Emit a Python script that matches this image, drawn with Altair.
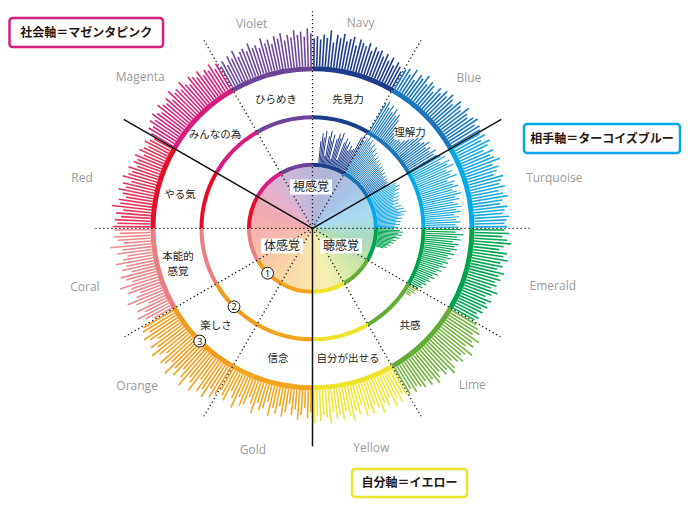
import altair as alt
import pandas as pd

# ---------------- data ----------------
CX, CY = 312.5, 228.3          # wheel centre (page px)

sectors = ["Navy", "Blue", "Turquoise", "Emerald", "Lime", "Yellow",
           "Gold", "Orange", "Coral", "Red", "Magenta", "Violet"]
ring_colors = ["#1e3b8c", "#1a75bb", "#00a9e8", "#00a24b", "#62ad35", "#ece42a",
               "#f3a41d", "#f29c1f", "#e97f7e", "#e50e2b", "#d71c80", "#6c4397"]
bar_colors = ["#1f3d8f", "#1a78bf", "#1aa9e6", "#00a651", "#72b53c", "#ede735",
              "#f4a820", "#f3a023", "#ec8a8c", "#e8365a", "#d6257f", "#6f4a9c"]
disc_colors = ["#aeb3d6", "#a6c3e6", "#a6dcf2", "#a9dbb7", "#d2e7a6", "#f5f1ad",
               "#f9dfaa", "#f9cfa0", "#f6b9ac", "#f3a7ae", "#e2b1cf", "#c4b7da"]

label_angle = [13.2, 46.1, 78.2, 103.4, 134.5, 165, 195, 228, 255.6, 282.4, 311.2, 343.4]
label_radius = [211, 217, 247, 247, 224, 227, 230, 236, 235, 236, 229, 213]

# outer bars: one per degree, length beyond the outer ring
outer_navy = [28, 30, 27, 32, 29, 37, 25, 33, 30, 35, 28, 31, 34, 26, 33, 30, 28, 32, 25, 30, 27, 29, 24, 28, 22, 27, 20, 25, 22, 18]
outer_blue = [22, 25, 20, 28, 18, 26, 24, 30, 22, 27, 25, 20, 28, 24, 30, 26, 32, 28, 25, 33, 30, 27, 35, 30, 28, 33, 36, 30, 34, 32]
outer_turq = [30, 34, 28, 36, 32, 26, 35, 30, 33, 38, 29, 34, 31, 27, 36, 33, 30, 35, 28, 32, 36, 30, 27, 34, 31, 29, 35, 32, 30, 33]
outer_emer = [30, 35, 28, 33, 37, 30, 26, 34, 31, 36, 29, 32, 27, 35, 30, 33, 28, 31, 26, 34, 29, 24, 31, 27, 30, 25, 28, 23, 27, 24]
outer_lime = [28, 32, 36, 30, 40, 34, 38, 31, 42, 36, 33, 39, 35, 30, 37, 41, 33, 36, 29, 34, 38, 31, 35, 28, 33, 30, 27, 32, 26, 30]
outer_yell = [30, 26, 33, 28, 35, 24, 31, 27, 36, 29, 25, 33, 28, 34, 22, 30, 26, 35, 29, 24, 32, 27, 30, 23, 34, 28, 25, 31, 26, 33]
outer_gold = [22, 28, 18, 25, 30, 20, 26, 15, 24, 29, 19, 27, 22, 31, 17, 25, 28, 21, 33, 24, 18, 27, 30, 22, 35, 26, 20, 32, 28, 24]
outer_oran = [30, 36, 28, 40, 33, 38, 26, 42, 35, 31, 44, 37, 29, 40, 34, 45, 32, 38, 41, 30, 36, 43, 33, 39, 28, 35, 40, 31, 37, 34]
outer_cora = [20, 28, 35, 25, 32, 18, 30, 38, 27, 22, 34, 29, 40, 26, 31, 36, 24, 33, 28, 38, 30, 25, 35, 29, 41, 27, 33, 37, 31, 36]
outer_red = [38, 33, 36, 30, 35, 28, 40, 32, 34, 27, 31, 36, 29, 33, 25, 35, 30, 27, 32, 24, 29, 26, 30, 22, 28, 25, 21, 27, 23, 20]
outer_mage = [25, 30, 27, 33, 29, 35, 31, 28, 36, 32, 30, 34, 28, 37, 31, 33, 29, 36, 30, 27, 34, 31, 28, 33, 26, 30, 27, 32, 25, 29]
outer_viol = [24, 28, 22, 30, 26, 33, 25, 29, 31, 27, 34, 28, 30, 26, 35, 29, 32, 27, 34, 31, 36, 28, 33, 30, 37, 32, 35, 30, 38, 33]
outer_lengths = [outer_navy, outer_blue, outer_turq, outer_emer, outer_lime, outer_yell,
                 outer_gold, outer_oran, outer_cora, outer_red, outer_mage, outer_viol]

# middle bars (from the middle ring), one per degree starting at 30 deg
middle_start = 30
middle_lengths = [32, 35, 30, 34, 28, 33, 27, 30, 25, 18, 12, 10, 8, 9, 11, 10, 14, 18, 22, 26, 30, 24, 28, 32, 26, 30, 27, 33, 29, 31,
                  34, 38, 30, 40, 36, 42, 33, 38, 35, 41, 30, 37, 34, 39, 32, 36, 40, 33, 37, 30, 35, 38, 32, 36, 29, 34, 31, 35, 30, 33,
                  35, 30, 38, 32, 36, 28, 34, 30, 33, 27, 31, 25, 29, 24, 27, 22, 26, 20, 23, 18, 21, 16, 19, 14, 16, 12, 14, 10, 12, 8,
                  10, 7, 8, 5, 6]

# inner bars (from the inner ring), one per degree starting at 5 deg
inner_start = 5
inner_lengths = [22, 30, 26, 33, 8, 28, 34, 24, 31, 6, 27, 33, 29, 35, 7, 26, 31, 24, 29, 20, 26, 22, 24,
                 38, 42, 36, 40, 44, 38, 41, 35, 39, 33, 37, 30, 34, 28, 32, 27, 30, 26, 29, 25, 28, 24, 27, 23, 26, 22, 25, 21, 24, 22, 23, 20, 22,
                 30, 28, 32, 26, 30, 24, 28, 22, 27, 20, 25, 19, 24, 18, 26, 20, 28, 22, 30, 24, 27, 21, 25, 19, 23, 18, 22, 17, 20, 16,
                 22, 25, 20, 24, 18, 22, 16, 19, 14, 17, 12, 14, 10, 11, 8]

jp_labels = ["ひらめき", "先見力", "理解力", "みんなの為", "やる気", "本能的", "感覚",
             "楽しさ", "信念", "自分が出せる", "共感"]
jp_x = [276, 348, 410, 215, 180, 178, 178, 216, 278, 348, 410]
jp_y = [100, 100, 133, 135, 195, 257, 272, 326, 359, 359, 326]

sense_labels = ["視感覚", "体感覚", "聴感覚"]
sense_x = [311, 282, 341]
sense_y = [187, 246, 246]

axis_titles = ["社会軸＝マゼンタピンク", "相手軸＝ターコイズブルー", "自分軸＝イエロー"]
axis_colors = ["#d71c80", "#00a9e8", "#ece42a"]
box_x0 = [9.5, 524, 352]
box_x1 = [163, 680, 467]
box_y0 = [18, 124, 469]
box_y1 = [47, 153, 497]

marker_labels = ["1", "2", "3"]
marker_radius = [63.5, 111, 159.5]
marker_angle = 225

ring_inner = [61.5, 109, 157]
ring_outer = [65.5, 113, 162]

dotted_angles = [0, 30, 90, 120, 150, 210, 240, 270, 330]
solid_angles = [60, 180, 300]

# ---------------- build tables ----------------
bars = []
for s, lens in enumerate(outer_lengths):
    for i, L in enumerate(lens):
        bars.append(dict(a=s * 30 + i + 0.5, r0=162, r1=162 + L, col=bar_colors[s], w="o"))
for i, L in enumerate(middle_lengths):
    a = middle_start + i + 0.5
    bars.append(dict(a=a, r0=113, r1=113 + L, col=bar_colors[int(a // 30) % 12], w="m"))
for i, L in enumerate(inner_lengths):
    a = inner_start + i + 0.5
    bars.append(dict(a=a, r0=65.5, r1=65.5 + L, col=bar_colors[int(a // 30) % 12], w="i"))
bars = pd.DataFrame(bars)

rings = pd.DataFrame([dict(a0=s * 30, a1=s * 30 + 30, r0=ri, r1=ro, col=ring_colors[s])
                      for ri, ro in zip(ring_inner, ring_outer) for s in range(12)])


def hx(c):
    return tuple(int(c[k:k + 2], 16) for k in (1, 3, 5))


def mix(c1, c2, t):
    a, b = hx(c1), hx(c2)
    return "#%02x%02x%02x" % tuple(round(a[k] + (b[k] - a[k]) * t) for k in range(3))


disc = []
step = 3
for k in range(0, 360, step):
    mid = k + step / 2
    pos = (mid - 15) / 30.0
    i0 = int(pos // 1) % 12
    t = pos - (pos // 1)
    disc.append(dict(a0=k, a1=k + step, r0=0, r1=61.5, col=mix(disc_colors[i0], disc_colors[(i0 + 1) % 12], t)))
disc = pd.DataFrame(disc)

lines = pd.DataFrame([dict(a=a, r0=0, r1=217, kind="dot") for a in dotted_angles] +
                     [dict(a=a, r0=0, r1=218, kind="solid") for a in solid_angles])

sect_lab = pd.DataFrame(dict(name=sectors, a=label_angle, r=label_radius))
jp = pd.DataFrame(dict(t=jp_labels, x=jp_x, y=jp_y))
sense = pd.DataFrame(dict(t=sense_labels, x=sense_x, y=sense_y))
boxes = pd.DataFrame(dict(t=axis_titles, col=axis_colors, x0=box_x0, x1=box_x1, y0=box_y0, y1=box_y1))
markers = pd.DataFrame(dict(t=marker_labels, r=marker_radius, a=[marker_angle] * 3))

# ---------------- scales ----------------
W, H = 674, 491
xs = alt.Scale(domain=[8, 8 + W], nice=False, zero=False)
ys = alt.Scale(domain=[8 + H, 8], nice=False, zero=False)
ts = alt.Scale(domain=[0, 360], range=[0, 6.283185307179586])
rs = alt.Scale(type="linear", domain=[0, 300], range=[0, 300], zero=True, nice=False)
XC, YC = CX - 8, CY - 8


def polar(ch, rfield, name_x, name_y):
    return ch.transform_calculate(
        **{name_x: f"{CX} + datum.{rfield}*sin(datum.a*PI/180)",
           name_y: f"{CY} - datum.{rfield}*cos(datum.a*PI/180)"})


def arcs(df, stroke=False):
    enc = dict(theta=alt.Theta("a0:Q", scale=ts, stack=None), theta2="a1:Q",
               radius=alt.Radius("r0:Q", scale=rs), radius2="r1:Q",
               color=alt.Color("col:N", scale=None),
               x=alt.value(XC), y=alt.value(YC))
    if stroke:
        enc["stroke"] = alt.Stroke("col:N", scale=None)
    return alt.Chart(df).mark_arc(strokeWidth=0.6 if stroke else 0).encode(**enc)


disc_layer = arcs(disc, stroke=True)
ring_layer = arcs(rings)


def bar_layer(kind, width):
    ch = alt.Chart(bars).transform_filter(f"datum.w == '{kind}'")
    ch = polar(ch, "r0", "x", "y")
    ch = polar(ch, "r1", "x2", "y2")
    return ch.mark_rule(strokeWidth=width).encode(
        x=alt.X("x:Q", scale=xs, axis=None), y=alt.Y("y:Q", scale=ys, axis=None),
        x2="x2:Q", y2="y2:Q", color=alt.Color("col:N", scale=None))


outer_bars = bar_layer("o", 1.6)
middle_bars = bar_layer("m", 1.2)
inner_bars = bar_layer("i", 1.0)


def line_layer(kind, **kw):
    ch = alt.Chart(lines).transform_filter(f"datum.kind == '{kind}'")
    ch = polar(ch, "r0", "x", "y")
    ch = polar(ch, "r1", "x2", "y2")
    return ch.mark_rule(color="#111111", **kw).encode(
        x=alt.X("x:Q", scale=xs, axis=None), y=alt.Y("y:Q", scale=ys, axis=None),
        x2="x2:Q", y2="y2:Q")


dot_lines = line_layer("dot", strokeWidth=1.3, strokeDash=[1.2, 2.8])
solid_lines = line_layer("solid", strokeWidth=1.5)

sector_text = polar(alt.Chart(sect_lab), "r", "x", "y").mark_text(
    font="Open Sans", fontSize=12, color="#9b9b9b", align="center", baseline="middle"
).encode(x=alt.X("x:Q", scale=xs, axis=None), y=alt.Y("y:Q", scale=ys, axis=None), text="name:N")

jp_text = alt.Chart(jp).mark_text(
    font="Noto Sans CJK JP", fontSize=10.5, color="#222222", align="center", baseline="middle"
).encode(x=alt.X("x:Q", scale=xs, axis=None), y=alt.Y("y:Q", scale=ys, axis=None), text="t:N")

sense_box = alt.Chart(sense).transform_calculate(
    bx0="datum.x - 21", bx1="datum.x + 21", by0="datum.y - 7.5", by1="datum.y + 7.5"
).mark_rect(fill="white", opacity=0.95).encode(
    x=alt.X("bx0:Q", scale=xs, axis=None), x2="bx1:Q",
    y=alt.Y("by0:Q", scale=ys, axis=None), y2="by1:Q")
sense_text = alt.Chart(sense).mark_text(
    font="Noto Sans CJK JP", fontSize=12, color="#222222", align="center", baseline="middle"
).encode(x=alt.X("x:Q", scale=xs, axis=None), y=alt.Y("y:Q", scale=ys, axis=None), text="t:N")

marker_pts = polar(alt.Chart(markers), "r", "x", "y").mark_point(
    shape="circle", filled=True, fill="white", stroke="#111111", strokeWidth=1, size=140, opacity=1
).encode(x=alt.X("x:Q", scale=xs, axis=None), y=alt.Y("y:Q", scale=ys, axis=None))
marker_txt = polar(alt.Chart(markers), "r", "x", "y").mark_text(
    font="Noto Sans", fontSize=9, color="#111111", align="center", baseline="middle", dy=0.5
).encode(x=alt.X("x:Q", scale=xs, axis=None), y=alt.Y("y:Q", scale=ys, axis=None), text="t:N")

box_rect = alt.Chart(boxes).mark_rect(fill="white", strokeWidth=2.5, cornerRadius=3).encode(
    x=alt.X("x0:Q", scale=xs, axis=None), x2="x1:Q",
    y=alt.Y("y0:Q", scale=ys, axis=None), y2="y1:Q",
    stroke=alt.Stroke("col:N", scale=None))
box_text = alt.Chart(boxes).transform_calculate(
    cx="(datum.x0 + datum.x1) / 2", cy="(datum.y0 + datum.y1) / 2"
).mark_text(font="Noto Sans CJK JP", fontSize=12, fontWeight="bold", color="#231815",
            align="center", baseline="middle").encode(
    x=alt.X("cx:Q", scale=xs, axis=None), y=alt.Y("cy:Q", scale=ys, axis=None), text="t:N")

chart = alt.layer(
    disc_layer, outer_bars, middle_bars, inner_bars, ring_layer,
    dot_lines, solid_lines, sense_box, sense_text, jp_text, sector_text,
    marker_pts, marker_txt, box_rect, box_text
).properties(width=W, height=H, padding=0, autosize="none").configure_view(strokeWidth=0)

chart.save("out.html", embed_options={"renderer": "svg", "actions": False})
